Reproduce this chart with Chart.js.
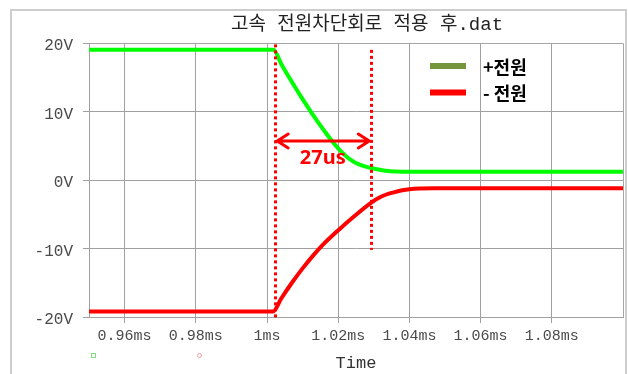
<!DOCTYPE html>
<html>
<head>
<meta charset="utf-8">
<script src="https://cdn.jsdelivr.net/npm/chart.js@4/dist/chart.umd.min.js"></script>
<style>
  html, body { margin: 0; padding: 0; background: #ffffff; }
  #wrap { position: relative; width: 628px; height: 374px; }
</style>
</head>
<body>
<div id="wrap"><canvas id="c" width="628" height="374"></canvas></div>
<script>
// Supply rail voltages around the fast cut-off event (time in ms, voltage in V)
const plusTime  = [0.95, 1.0018, 1.004, 1.007, 1.010, 1.013, 1.016, 1.0183, 1.021, 1.0234, 1.026, 1.029, 1.032, 1.0346, 1.038, 1.042, 1.1];
const plusVolt  = [19.0, 19.0,   16.95, 14.3,  11.8,  9.45,  7.25,  5.67,   4.07,  2.99,   2.24,  1.78,  1.45,  1.28,   1.21,  1.2,   1.2];
const minusTime = [0.95, 1.0017, 1.004, 1.007, 1.010, 1.013, 1.016, 1.0198, 1.0245, 1.0293, 1.032, 1.0356, 1.038, 1.040, 1.043, 1.047, 1.1];
const minusVolt = [-19.2, -19.2, -17.3, -15.0, -12.9, -11.0, -9.3, -7.44,  -5.3,   -3.3,   -2.45, -1.8,   -1.5,  -1.35, -1.25, -1.2,  -1.2];

const seriesNames  = ['+전원', '- 전원'];
const chartTitle   = '고속 전원차단회로 적용 후.dat';
const axisTitle    = 'Time';

const timeTicks      = [0.96, 0.98, 1.00, 1.02, 1.04, 1.06, 1.08];
const timeTickLabels = ['0.96ms', '0.98ms', '1ms', '1.02ms', '1.04ms', '1.06ms', '1.08ms'];
const voltTicks      = [-20, -10, 0, 10, 20];
const voltTickLabels = ['-20V', '-10V', '0V', '10V', '20V'];

// Measurement cursors: cut-off start and settling point, 27 us apart
const cursorStart  = 1.0023;   // ms
const delayUs      = 27;
const cursorTimes  = [cursorStart, cursorStart + delayUs / 1000];
const cursorTop    = [19.8, 19.0];
const cursorBottom = [-20.4, -10.2];
const arrowVolt    = 5.7;

const toPoints = (xs, ys) => xs.map((x, i) => ({ x: x, y: ys[i] }));

const MONO = '"Liberation Mono", "DejaVu Sans Mono", monospace';

const decor = {
  id: 'decor',
  beforeDraw(chart) {
    const ctx = chart.ctx;
    ctx.save();
    ctx.fillStyle = '#ffffff';
    ctx.fillRect(0, 0, chart.width, chart.height);
    // outer window frame
    ctx.strokeStyle = '#cdcdcd';
    ctx.lineWidth = 2;
    ctx.beginPath();
    ctx.moveTo(11, 380); ctx.lineTo(11, 10); ctx.lineTo(626, 10); ctx.lineTo(626, 380);
    ctx.stroke();
    // title
    ctx.fillStyle = '#222222';
    ctx.font = '19px "Liberation Mono", "Noto Sans CJK KR", monospace';
    ctx.textAlign = 'center';
    ctx.textBaseline = 'middle';
    ctx.fillText(chartTitle, 367, 25);
    ctx.restore();
  },
  beforeDatasetsDraw(chart) {
    const { ctx, chartArea: a } = chart;
    ctx.save();
    ctx.strokeStyle = '#a6a6a6';
    ctx.lineWidth = 1;
    ctx.beginPath();
    ctx.moveTo(a.left, a.top + 0.5); ctx.lineTo(a.right + 0.5, a.top + 0.5); ctx.lineTo(a.right + 0.5, a.bottom);
    ctx.stroke();
    ctx.restore();
  },
  afterDatasetsDraw(chart) {
    const { ctx, scales: { x, y } } = chart;
    ctx.save();
    // dotted cursors
    ctx.strokeStyle = '#ff0000';
    ctx.lineWidth = 3;
    ctx.setLineDash([3, 3]);
    cursorTimes.forEach((t, i) => {
      const px = Math.round(x.getPixelForValue(t)) + 0.5;
      ctx.beginPath();
      ctx.moveTo(px, y.getPixelForValue(cursorTop[i]));
      ctx.lineTo(px, y.getPixelForValue(cursorBottom[i]));
      ctx.stroke();
    });
    ctx.setLineDash([]);
    // double arrow between cursors
    const x1 = x.getPixelForValue(cursorTimes[0]) + 2;
    const x2 = x.getPixelForValue(cursorTimes[1]) - 2;
    const ay = y.getPixelForValue(arrowVolt);
    ctx.lineWidth = 3;
    ctx.lineCap = 'round';
    ctx.beginPath();
    ctx.moveTo(x1, ay); ctx.lineTo(x2, ay);
    ctx.moveTo(x1 + 11, ay - 7); ctx.lineTo(x1, ay); ctx.lineTo(x1 + 11, ay + 7);
    ctx.moveTo(x2 - 11, ay - 7); ctx.lineTo(x2, ay); ctx.lineTo(x2 - 11, ay + 7);
    ctx.stroke();
    // delay label
    ctx.fillStyle = '#ff0000';
    ctx.font = 'bold 20px "Noto Sans", "Open Sans", sans-serif';
    ctx.textAlign = 'center';
    ctx.textBaseline = 'middle';
    ctx.fillText(delayUs + 'us', (x1 + x2) / 2 - 0.5, ay + 17);
    // legend
    ctx.font = 'bold 18px "Noto Sans CJK KR", sans-serif';
    ctx.textAlign = 'left';
    chart.data.datasets.forEach((ds, i) => {
      const ly = 66 + i * 26.5;
      ctx.fillStyle = ds.legendColor;
      ctx.fillRect(430, ly - 3, 36, 6);
      ctx.fillStyle = '#000000';
      ctx.fillText(ds.label, 483, ly + 1);
    });
    // probe symbols under the axis
    ctx.lineWidth = 1;
    ctx.strokeStyle = '#7fe07f';
    ctx.strokeRect(91.5, 353.5, 4, 4);
    ctx.strokeStyle = '#f4a0a0';
    ctx.beginPath(); ctx.arc(199.5, 355.5, 2, 0, Math.PI * 2); ctx.stroke();
    ctx.restore();
  }
};

new Chart(document.getElementById('c'), {
  type: 'line',
  data: {
    datasets: [
      {
        label: seriesNames[0],
        data: toPoints(plusTime, plusVolt),
        borderColor: '#00ff00',
        legendColor: '#76963c',
        borderWidth: 4,
        pointRadius: 0,
        cubicInterpolationMode: 'monotone',
        fill: false
      },
      {
        label: seriesNames[1],
        data: toPoints(minusTime, minusVolt),
        borderColor: '#ff0000',
        legendColor: '#ff0000',
        borderWidth: 4,
        pointRadius: 0,
        cubicInterpolationMode: 'monotone',
        fill: false
      }
    ]
  },
  options: {
    responsive: false,
    animation: false,
    devicePixelRatio: 1,
    layout: { padding: { left: 0, right: 5, top: 43, bottom: 0 } },
    plugins: {
      legend: { display: false },
      title: { display: false },
      tooltip: { enabled: false }
    },
    scales: {
      x: {
        type: 'linear',
        min: 0.95,
        max: 1.1,
        afterBuildTicks: s => { s.ticks = timeTicks.map(v => ({ value: v })); },
        afterFit: s => { s.height = 57; },
        ticks: {
          callback: (v, i) => timeTickLabels[i],
          font: { family: MONO, size: 15 },
          color: '#4a4a4a',
          padding: 4,
          maxRotation: 0,
          autoSkip: false
        },
        grid: { color: '#a0a0a0', lineWidth: 1, tickLength: 6, drawTicks: true },
        border: { color: '#a0a0a0', width: 1 },
        title: {
          display: true,
          text: axisTitle,
          font: { family: MONO, size: 17 },
          color: '#333333',
          padding: { top: 0, bottom: 0 }
        }
      },
      y: {
        type: 'linear',
        min: -20,
        max: 20,
        afterBuildTicks: s => { s.ticks = voltTicks.map(v => ({ value: v })); },
        afterFit: s => { s.width = 89; },
        ticks: {
          callback: (v, i) => voltTickLabels[i],
          font: { family: MONO, size: 16 },
          color: '#4a4a4a',
          padding: 10,
          labelOffset: 3
        },
        grid: { color: '#a0a0a0', lineWidth: 1, tickLength: 6, drawTicks: true },
        border: { color: '#a0a0a0', width: 1 }
      }
    }
  },
  plugins: [decor]
});
</script>
</body>
</html>
